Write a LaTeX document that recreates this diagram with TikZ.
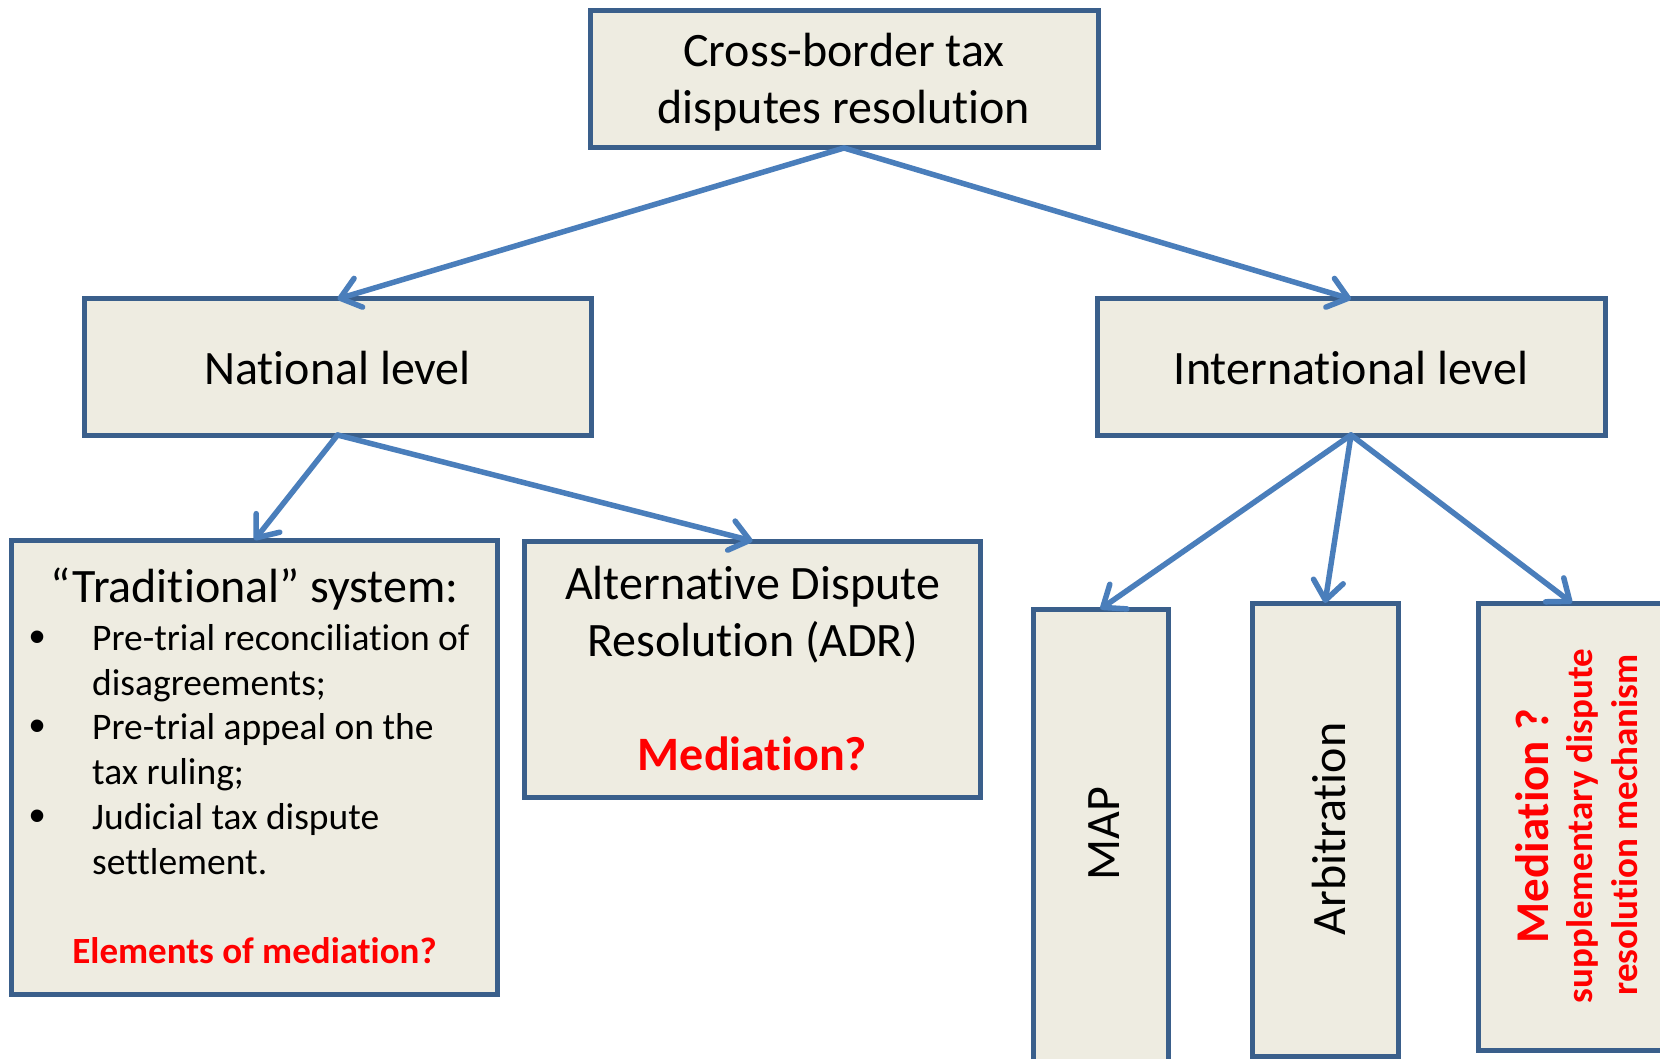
\documentclass[tikz,border=0pt]{standalone}
\usepackage{fontspec}
\setmainfont{Carlito}[Ligatures=NoCommon]
\newfontfamily\bulletfont{Liberation Sans}
\usetikzlibrary{arrows.meta}
\definecolor{boxfill}{HTML}{EEECE1}
\definecolor{boxline}{HTML}{3A5F8B}
\definecolor{arrowc}{HTML}{4A7EBB}
\definecolor{redtxt}{HTML}{FF0000}
\tikzset{
  box/.style={draw=boxline, fill=boxfill, line width=5pt, rectangle, inner sep=0pt, outer sep=0pt},
  conn/.style={draw=arrowc, line width=5.5pt, line cap=round,
    -{Straight Barb[length=19pt,width=30pt,line cap=round,line join=round]}},
  big/.style={anchor=base, inner sep=0pt, font=\fontsize{48}{57}\selectfont},
  small/.style={anchor=base west, inner sep=0pt, font=\fontsize{37.5}{45}\selectfont},
  bul/.style={anchor=base, inner sep=0pt, font=\bulletfont\fontsize{46}{45}\selectfont},
  redbig/.style={anchor=base, inner sep=0pt, text=redtxt, font=\bfseries\fontsize{48}{57}\selectfont},
  redsmall/.style={anchor=base, inner sep=0pt, text=redtxt, font=\bfseries\fontsize{37}{45}\selectfont},
}
\begin{document}
\begin{tikzpicture}[x=1pt,y=-1pt]
\useasboundingbox (0,0) rectangle (1660,1059);
\clip (0,0) rectangle (1660,1059);
\fill[white] (0,0) rectangle (1660,1059);
% boxes
\node[box, minimum width=508pt, minimum height=137pt] (top) at (844,79.5) {};
\node[box, minimum width=507pt, minimum height=136pt] (nat) at (337.5,367) {};
\node[box, minimum width=508pt, minimum height=136pt] (intl) at (1351,367) {};
\node[box, minimum width=486pt, minimum height=454pt] (trad) at (254.5,767) {};
\node[box, minimum width=456pt, minimum height=256pt] (adr) at (752.5,669) {};
\node[box, minimum width=135pt, minimum height=500pt] (map) at (1100.5,859) {};
\node[box, minimum width=146pt, minimum height=453pt] (arb) at (1325,829.5) {};
\node[box, minimum width=188pt, minimum height=447pt] (med) at (1572,826.5) {};
% texts
\node[big] (t1) at (844,67) {Cross-border tax};
\node[big] (t2) at (844,124) {disputes resolution};
\node[big] (n1) at (337.5,384) {National level};
\node[big] (i1) at (1351,384) {International level};
\node[big] (tr0) at (254.5,602) {“Traditional” system:};
\node[bul] (b1) at (38,652) {•};
\node[bul] (b2) at (38,741) {•};
\node[bul] (b3) at (38,831) {•};
\node[small] (l1) at (92,650) {Pre-trial reconciliation of};
\node[small] (l2) at (92,695) {disagreements;};
\node[small] (l3) at (92,739) {Pre-trial appeal on the};
\node[small] (l4) at (92,784) {tax ruling;};
\node[small] (l5) at (92,829) {Judicial tax dispute};
\node[small] (l6) at (92,874) {settlement.};
\node[redsmall] (em) at (254.5,963) {Elements of mediation?};
\node[big] (a1) at (752.5,599) {Alternative Dispute};
\node[big] (a2) at (752.5,656) {Resolution (ADR)};
\node[redbig] (a3) at (752.5,770) {Mediation?};
\node[big, rotate=90] (mapt) at (1119,834) {MAP};
\node[big, rotate=90] (arbt) at (1345,829) {Arbitration};
\node[redbig, font=\bfseries\fontsize{47}{56}\selectfont, rotate=90] (medt) at (1548,826) {Mediation ?};
\node[redsmall, rotate=90] (meds1) at (1592,826) {supplementary dispute};
\node[redsmall, rotate=90] (meds2) at (1637,825) {resolution mechanism};
% connectors
\draw[conn] (top.south) -- (nat.north);
\draw[conn] (top.south) -- (intl.north);
\draw[conn] (nat.south) -- (trad.north);
\draw[conn] (nat.south) -- (adr.north);
\draw[conn] (intl.south) -- (map.north);
\draw[conn] (intl.south) -- (arb.north);
\draw[conn] (intl.south) -- (med.north);
\end{tikzpicture}
\end{document}
